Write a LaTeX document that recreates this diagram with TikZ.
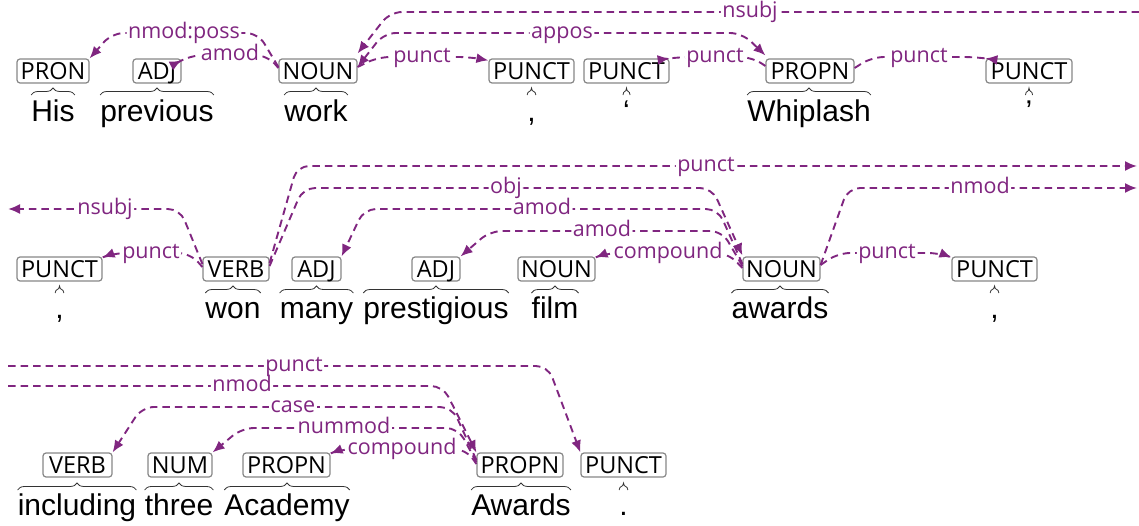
\documentclass[tikz,border=0pt]{standalone}
\usepackage{fontspec}
\setmainfont{Liberation Sans}
\newfontfamily\tagfont{Open Sans}
\usetikzlibrary{arrows.meta,decorations.pathreplacing}
\definecolor{depcol}{RGB}{128,38,128}
\definecolor{boxcol}{RGB}{135,135,135}
\tikzset{
  tagbox/.style={draw=boxcol,line width=1.2pt,rounded corners=3pt,fill=white,
    minimum height=24pt,inner sep=0pt,text height=17pt,text depth=0pt,
    font=\tagfont\fontsize{23.5}{23.5}\selectfont},
  wordnode/.style={anchor=base,inner sep=0pt,font=\fontsize{30}{30}\selectfont},
  brc/.style={decorate,decoration={brace,amplitude=7pt},line width=0.8pt,draw=black!80},
  dep/.style={draw=depcol,line width=1.9pt,dash pattern=on 7.5pt off 5pt,rounded corners=12pt,
    -{Latex[length=12pt,width=10pt]}},
  lab/.style={fill=white,text=depcol,inner xsep=1.5pt,inner ysep=0pt,
    text height=15pt,text depth=4.5pt,font=\tagfont\fontsize{21.5}{21.5}\selectfont}
}
\begin{document}
\begin{tikzpicture}[x=1pt,y=-1pt]
\useasboundingbox (0,0) rectangle (1139,526);
% ---------- edge coordinates
\coordinate (r1) at (1139,12);
\coordinate (l2) at (8,209);
\coordinate (r2a) at (1137,166);
\coordinate (r2b) at (1137,188);
\coordinate (l3a) at (8,366);
\coordinate (l3b) at (8,386);
% ---------- row 1 words
\node[wordnode] (w1) at (53,122) {His};
\node[wordnode] (w2) at (157,122) {previous};
\node[wordnode] (w3) at (316,122) {work};
\node[wordnode] (w4) at (531.5,122) {,};
\node[wordnode] (w5) at (626.5,122) {‘};
\node[wordnode] (w6) at (809,122) {Whiplash};
\node[wordnode] (w7) at (1029,122) {’};
% ---------- row 2 words
\node[wordnode] (w8) at (59.5,318) {,};
\node[wordnode] (w9) at (233,318) {won};
\node[wordnode] (w10) at (316.5,318) {many};
\node[wordnode] (w11) at (436,318) {prestigious};
\node[wordnode] (w12) at (555,318) {film};
\node[wordnode] (w13) at (780,318) {awards};
\node[wordnode] (w14) at (994.5,318) {,};
% ---------- row 3 words
\node[wordnode] (w15) at (77,515) {including};
\node[wordnode] (w16) at (179,515) {three};
\node[wordnode] (w17) at (287,515) {Academy};
\node[wordnode] (w18) at (521,515) {Awards};
\node[wordnode] (w19) at (623.5,515) {.};
% ---------- braces
\foreach \w in {w1,w2,w3,w4,w5,w6,w7}{\draw[brc] (\w.west |- 0,95) -- (\w.east |- 0,95);}
\foreach \w in {w8,w9,w10,w11,w12,w13,w14}{\draw[brc] (\w.west |- 0,293) -- (\w.east |- 0,293);}
\foreach \w in {w15,w16,w17,w18,w19}{\draw[brc] (\w.west |- 0,490) -- (\w.east |- 0,490);}
% ---------- tags
\node[tagbox,minimum width=72pt] (t1) at (53,71) {PRON};
\node[tagbox,minimum width=48pt] (t2) at (157,71) {ADJ};
\node[tagbox,minimum width=78pt] (t3) at (318,71) {NOUN};
\node[tagbox,minimum width=85pt] (t4) at (531.5,71) {PUNCT};
\node[tagbox,minimum width=85pt] (t5) at (626.5,71) {PUNCT};
\node[tagbox,minimum width=88pt] (t6) at (810,71) {PROPN};
\node[tagbox,minimum width=86pt] (t7) at (1029,71) {PUNCT};
\node[tagbox,minimum width=85pt] (t8) at (59.5,269) {PUNCT};
\node[tagbox,minimum width=66pt] (t9) at (236,269) {VERB};
\node[tagbox,minimum width=49pt] (t10) at (316.5,269) {ADJ};
\node[tagbox,minimum width=48pt] (t11) at (436,269) {ADJ};
\node[tagbox,minimum width=77pt] (t12) at (556.5,269) {NOUN};
\node[tagbox,minimum width=77pt] (t13) at (781.5,269) {NOUN};
\node[tagbox,minimum width=85pt] (t14) at (994.5,269) {PUNCT};
\node[tagbox,minimum width=69pt] (t15) at (77.5,465) {VERB};
\node[tagbox,minimum width=64pt] (t16) at (180,465) {NUM};
\node[tagbox,minimum width=87pt] (t17) at (286.5,465) {PROPN};
\node[tagbox,minimum width=86pt] (t18) at (520,465) {PROPN};
\node[tagbox,minimum width=85pt] (t19) at (623.5,465) {PUNCT};
% ---------- row 1 arcs
\draw[dep] ([yshift=4pt]t3.west) -- (258,33) -- (112,33) -- (t1.north east)
  node[lab] at (184,33) {nmod:poss};
\draw[dep] ([yshift=3pt]t3.west) -- (267,55) -- (192,55) -- ([yshift=-2pt]t2.north east)
  node[lab] at (230,55) {amod};
\draw[dep] ([yshift=4pt]t3.east) -- (378,57) -- (470,57) -- ([yshift=-2pt]t4.north west)
  node[lab] at (422,57) {punct};
\draw[dep,{Latex[length=12pt,width=10pt]}-{Latex[length=12pt,width=10pt]}] ([yshift=4pt]t3.east) -- (384,33) -- (742,33) -- ([yshift=3pt]t6.north west)
  node[lab] at (562,33) {appos};
\draw[dep] (r1) -- (390,12) -- ([yshift=5pt]t3.north east)
  node[lab] at (750,12) {nsubj};
\draw[dep] ([yshift=5pt]t6.west) -- (752,57) -- (680,57) -- (t5.north east)
  node[lab] at (715,57) {punct};
\draw[dep] ([yshift=3pt]t6.east) -- (872,57) -- (975,57) -- (t7.north west)
  node[lab] at (919,57) {punct};
% ---------- row 2 arcs
\draw[dep] ([yshift=5pt]t9.west) -- (180,209) -- (l2)
  node[lab] at (105,209) {nsubj};
\draw[dep] ([yshift=2pt]t9.west) -- (190,253) -- (114,253) -- ([yshift=-1pt]t8.north east)
  node[lab] at (151,253) {punct};
\draw[dep] ([yshift=6pt]t9.east) -- (297,166) -- (r2a)
  node[lab] at (706,166) {punct};
\draw[dep] ([yshift=3pt]t9.east) -- (303,188) -- (712,188) -- ([yshift=1pt]t13.north west)
  node[lab] at (506,188) {obj};
\draw[dep] ([yshift=5pt]t13.west) -- (718,209) -- (364,209) -- (t10.north east)
  node[lab] at (542,209) {amod};
\draw[dep] ([yshift=3pt]t13.west) -- (722,231) -- (490,231) -- (t11.north east)
  node[lab] at (602,231) {amod};
\draw[dep] ([yshift=1pt]t13.west) -- (728,253) -- (607,253) -- ([yshift=-1pt]t12.north east)
  node[lab] at (668,253) {compound};
\draw[dep] ([yshift=4pt]t13.east) -- (848,188) -- (r2b)
  node[lab] at (980,188) {nmod};
\draw[dep] ([yshift=4pt]t13.east) -- (838,253) -- (940,253) -- ([yshift=-1pt]t14.north west)
  node[lab] at (887,253) {punct};
% ---------- row 3 arcs
\draw[dep] (l3a) -- (548,366) -- (t19.north west)
  node[lab] at (294,366) {punct};
\draw[dep] (l3b) -- (443,386) -- (t18.north west)
  node[lab] at (242,386) {nmod};
\draw[dep] ([yshift=5pt]t18.west) -- (452,407) -- (142,407) -- (t15.north east)
  node[lab] at (293,407) {case};
\draw[dep] ([yshift=3pt]t18.west) -- (458,428) -- (242,428) -- (t16.north east)
  node[lab] at (344,428) {nummod};
\draw[dep] ([yshift=1pt]t18.west) -- (466,449) -- (342,449) -- ([yshift=-1pt]t17.north east)
  node[lab] at (402,449) {compound};
\end{tikzpicture}
\end{document}
